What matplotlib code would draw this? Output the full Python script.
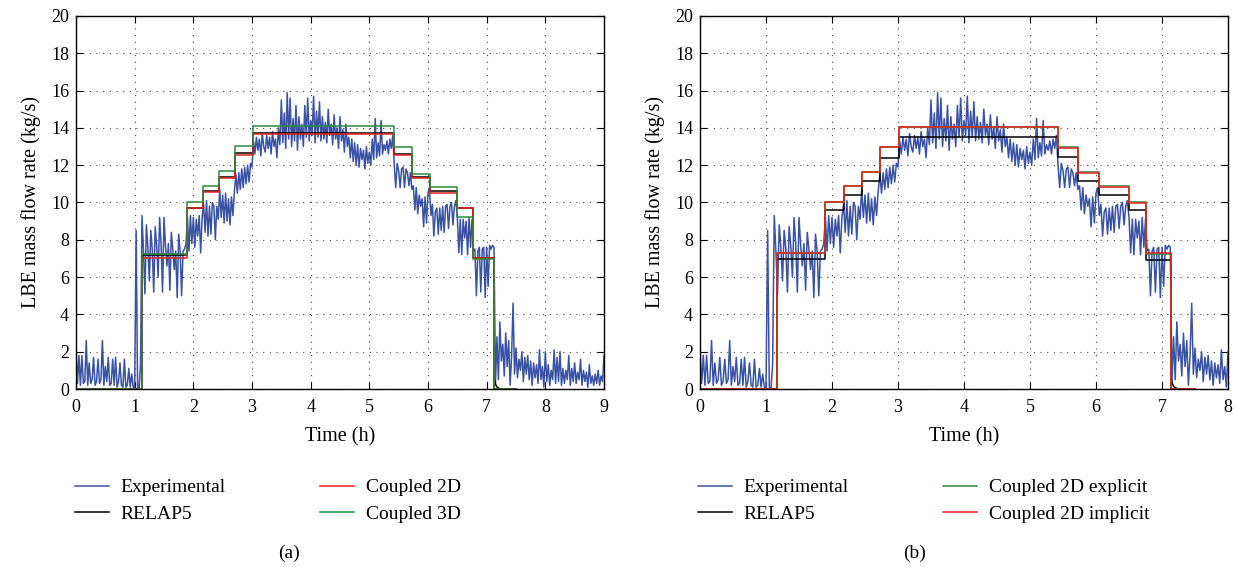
import matplotlib
matplotlib.use("Agg")
import matplotlib.pyplot as plt
import numpy as np

plt.rcParams.update({
    "font.family": "serif",
    "font.serif": ["Liberation Serif", "DejaVu Serif"],
    "font.size": 12,
})

exp_dt = 0.025
exp_flow = [
    2.2, 0.3, 1.8, 0.2, 1.8, 0.3, 0.4, 2.6,
    0.2, 1.4, 0.3, 0.5, 1.7, 0.2, 0.4, 1.6,
    0.3, 0.5, 2.6, 0.2, 1.2, 0.4, 1.7, 0.2,
    0.3, 1.6, 0.2, 1.7, 0.1, 0.4, 1.4, 0.2,
    0.1, 1.6, 0.1, 0.2, 1.1, 0.1, 0.8, 0.1,
    0.0, 8.5, 0.1, 0.0, 1.3, 9.3, 7.4, 5.1,
    8.8, 7.6, 5.8, 8.5, 7.5, 5.2, 8.7, 7.7,
    6.0, 9.2, 7.8, 5.2, 9.2, 7.7, 6.6, 7.8,
    5.3, 8.4, 7.5, 6.4, 7.4, 4.9, 8.3, 7.4,
    5.0, 7.4, 7.5, 7.8, 9.2, 7.4, 9.3, 7.8,
    9.2, 7.6, 9.1, 8.2, 9.3, 7.3, 9.2, 9.9,
    8.4, 10.1, 8.2, 9.8, 8.3, 10.0, 9.8, 8.0,
    9.8, 9.1, 10.7, 9.2, 10.4, 8.9, 10.5, 9.0,
    10.2, 8.8, 10.3, 9.3, 10.6, 11.5, 10.5, 11.6,
    10.7, 11.8, 10.8, 11.9, 11.0, 12.0, 11.1, 12.1,
    11.9, 13.3, 12.6, 13.5, 12.8, 13.4, 12.5, 13.7,
    13.0, 12.7, 13.6, 12.9, 13.5, 12.6, 13.8, 13.0,
    13.4, 12.4, 14.0, 13.1, 15.5, 13.2, 14.8, 12.9,
    15.9, 13.4, 15.6, 13.0, 14.5, 13.3, 15.2, 12.8,
    14.6, 13.4, 14.2, 13.0, 15.2, 13.5, 15.6, 13.3,
    14.4, 13.6, 15.7, 13.2, 14.9, 13.5, 15.4, 13.3,
    14.6, 13.4, 14.3, 13.2, 15.0, 13.6, 14.2, 13.1,
    14.7, 13.4, 14.0, 12.9, 14.6, 13.3, 13.9, 12.7,
    14.2, 13.0, 13.5, 12.4, 13.4, 12.2, 13.2, 12.0,
    13.1, 11.9, 12.9, 12.3, 12.8, 11.8, 13.0, 12.1,
    12.7, 12.0, 13.4, 12.3, 14.5, 12.4, 13.2, 12.5,
    14.4, 12.6, 13.1, 12.8, 13.3, 12.6, 13.4, 12.9,
    13.6, 12.0, 10.8, 12.1, 11.7, 10.8, 11.8, 11.9,
    10.8, 11.8, 11.6, 10.9, 11.6, 10.7, 10.9, 9.6,
    10.8, 9.4, 10.4, 9.8, 10.2, 8.7, 10.3, 8.9,
    10.5, 10.8, 9.3, 9.9, 8.2, 9.5, 9.7, 8.3,
    9.7, 8.5, 9.8, 8.4, 9.8, 9.9, 8.6, 9.8,
    10.0, 8.8, 9.8, 10.1, 9.2, 7.3, 9.1, 7.2,
    9.1, 8.1, 9.0, 7.2, 9.2, 7.6, 9.1, 7.4,
    7.5, 5.0, 7.4, 7.6, 5.2, 7.5, 7.6, 4.9,
    7.6, 5.5, 7.7, 7.5, 7.7, 7.6, 0.3, 2.8,
    0.5, 3.6, 1.5, 2.4, 0.7, 3.0, 1.2, 2.6,
    0.2, 1.8, 4.6, 0.8, 2.2, 0.6, 1.6, 1.0,
    2.0, 0.4, 1.7, 0.8, 1.8, 0.5, 1.5, 0.2,
    1.4, 0.6, 1.3, 0.3, 2.1, 0.5, 1.2, 0.1,
    2.0, 0.4, 1.3, 0.2, 1.0, 0.5, 2.1, 0.3,
    1.7, 0.4, 2.0, 0.2, 1.1, 0.3, 1.0, 0.5,
    1.8, 0.2, 1.1, 0.4, 1.4, 0.3, 0.9, 0.5,
    1.6, 0.2, 1.0, 0.4, 0.9, 0.1, 1.3, 0.3,
    0.7, 0.2, 0.8, 0.3, 1.0, 0.2, 0.7, 0.4,
    1.8,
]
exp_time = np.arange(len(exp_flow)) * exp_dt

# panel (a): step times (h) and levels (kg/s)
a_steps = [0, 1.12, 1.90, 2.17, 2.44, 2.71, 3.02, 5.42, 5.73, 6.04, 6.49, 6.76, 7.12, 7.5]
a_relap5 = [0, 7.18, 9.73, 10.63, 11.38, 12.68, 13.73, 12.62, 11.38, 10.61, 9.73, 7.05, 0, 0]
a_coupled2d = [0, 7.05, 9.68, 10.54, 11.29, 12.57, 13.68, 12.54, 11.29, 10.52, 9.73, 7.05, 0, 0]
a_coupled3d = [0, 7.23, 10.04, 10.89, 11.70, 13.02, 14.10, 12.98, 11.52, 10.84, 9.23, 6.95, 0, 0]

# panel (b)
b_steps = [0, 1.16, 1.90, 2.18, 2.45, 2.72, 3.02, 5.43, 5.72, 6.05, 6.50, 6.76, 7.13, 7.5]
b_relap5 = [0, 6.95, 9.59, 10.39, 11.14, 12.41, 13.52, 12.45, 11.14, 10.39, 9.59, 6.91, 0, 0]
b_explicit = [0, 7.27, 10.04, 10.90, 11.66, 12.98, 14.06, 12.96, 11.62, 10.86, 10.01, 7.25, 0, 0]
b_implicit = [0, 7.27, 10.00, 10.88, 11.63, 12.96, 14.04, 12.93, 11.59, 10.84, 9.98, 7.27, 0, 0]

# RELAP5 decay tail after pump stop
tail_dt = [0.0, 0.02, 0.05, 0.10, 0.15]
tail_v = [0.8, 0.35, 0.12, 0.02, 0.0]

BLUE = "#3a52a3"
RED = "#e3231c"
GREEN = "#2b8a3e"


def style_axes(ax, xmax):
    ax.set_xlim(0, xmax)
    ax.set_ylim(0, 20)
    ax.set_xticks(range(0, xmax + 1))
    ax.set_yticks(range(0, 21, 2))
    ax.grid(True, color="#444444", linestyle=(0, (1, 5)), linewidth=0.8)
    ax.tick_params(direction="in", top=True, right=True, length=5, labelsize=13)
    ax.tick_params(axis="x", pad=7)
    ax.tick_params(axis="y", pad=5)
    for s in ax.spines.values():
        s.set_linewidth(1.0)
    ax.set_xlabel("Time (h)", fontsize=14.5, labelpad=8)
    ax.set_ylabel("LBE mass flow rate (kg/s)", fontsize=14.5, labelpad=7)


fig = plt.figure(figsize=(12.37, 5.67), dpi=100)
ax_a = fig.add_axes([76 / 1237, 178 / 567, 528 / 1237, 373 / 567])
ax_b = fig.add_axes([700 / 1237, 178 / 567, 528 / 1237, 373 / 567])

leg_kw = dict(ncol=2, loc="upper left", frameon=False, fontsize=14,
              handlelength=1.75, handletextpad=0.6, columnspacing=4.85,
              labelspacing=0.45, borderpad=0.0)

# (a)
ea, = ax_a.plot(exp_time, exp_flow, color=BLUE, lw=1.1)
ra, = ax_a.step(a_steps, a_relap5, where="post", color="black", lw=1.1)
ax_a.plot(np.array(tail_dt) + a_steps[-2], tail_v, color="black", lw=1.1)
ca, = ax_a.step(a_steps, a_coupled2d, where="post", color=RED, lw=1.1)
ga, = ax_a.step(a_steps, a_coupled3d, where="post", color=GREEN, lw=1.1)
style_axes(ax_a, 9)
fig.legend([ea, ra, ca, ga], ["Experimental", "RELAP5", "Coupled 2D", "Coupled 3D"],
           bbox_to_anchor=(65 / 1237, 1 - 469 / 567), **leg_kw)
fig.text(289 / 1237, 1 - 553 / 567, "(a)", ha="center", va="center", fontsize=14)

# (b)
eb, = ax_b.plot(exp_time, exp_flow, color=BLUE, lw=1.1)
rb, = ax_b.step(b_steps, b_relap5, where="post", color="black", lw=1.1)
ax_b.plot(np.array(tail_dt) + b_steps[-2], tail_v, color="black", lw=1.1)
gb, = ax_b.step(b_steps, b_explicit, where="post", color=GREEN, lw=1.1)
cb, = ax_b.step(b_steps, b_implicit, where="post", color=RED, lw=1.1)
style_axes(ax_b, 8)
fig.legend([eb, rb, gb, cb], ["Experimental", "RELAP5", "Coupled 2D explicit", "Coupled 2D implicit"],
           bbox_to_anchor=(688 / 1237, 1 - 469 / 567), **leg_kw)
fig.text(915 / 1237, 1 - 553 / 567, "(b)", ha="center", va="center", fontsize=14)

fig.savefig("out.png", dpi=100)
